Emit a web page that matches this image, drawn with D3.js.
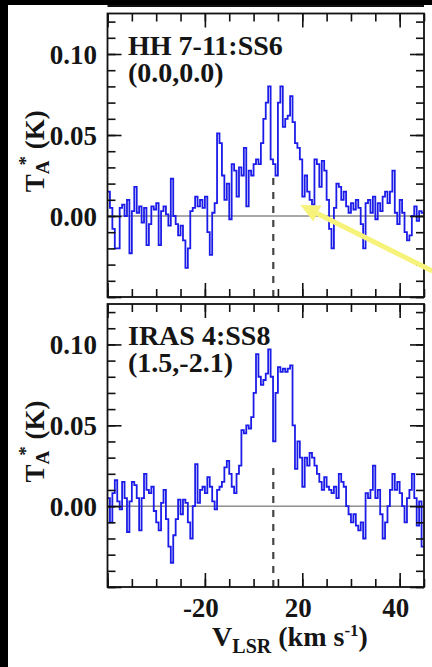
<!DOCTYPE html>
<html>
<head>
<meta charset="utf-8">
<script src="https://cdn.jsdelivr.net/npm/d3@7"></script>
<style>
  body { margin: 0; background: #fff; }
  text { font-family: "Liberation Serif", serif; font-weight: bold; fill: #151515; }
</style>
</head>
<body>
<div id="chart"></div>
<script>

// channel grid (km/s)
var velStart = -60;
var chanWidth = 1;

// spectra, one value per 1 km/s channel starting at -60 km/s
var ss6Values = [
  0.015, 0.005, -0.008, -0.02, -0.02, 0.005, 0.007, 0.0, 0.01, -0.023,
  0.003, 0.018, 0.002, 0.006, -0.004, 0.005, -0.018, -0.005, 0.006, 0.004,
  0.008, -0.018, 0.003, 0.006, 0.001, -0.006, 0.023, 0.0, -0.005, -0.012,
  -0.006, -0.015, -0.032, -0.02, 0.003, 0.005, 0.012, 0.006, 0.01, 0.005,
  0.012, -0.01, -0.024, 0.002, 0.008, 0.051, 0.045, 0.025, 0.01, 0.02,
  -0.002, 0.032, 0.028, 0.012, 0.03, 0.025, 0.042, 0.006, 0.028, 0.025,
  0.032, 0.035, 0.032, 0.045, 0.06, 0.07, 0.08, 0.035, 0.032, 0.025,
  0.07, 0.08, 0.055, 0.06, 0.062, 0.074, 0.058, 0.045, 0.042, 0.035,
  0.012, 0.025, 0.015, 0.01, 0.007, 0.035, 0.032, 0.018, 0.034, 0.028,
  0.01, -0.008, -0.02, 0.005, 0.02, 0.018, 0.01, 0.015, 0.006, 0.002,
  0.008, 0.004, 0.01, 0.005, -0.005, -0.02, 0.008, 0.01, 0.002, 0.012,
  -0.002, 0.008, 0.003, 0.012, 0.015, 0.008, 0.015, 0.028, 0.002, -0.005,
  0.01, 0.002, -0.01, -0.015, -0.012, 0.0, 0.006, -0.003, 0.003, 0.002
];

var ss8Values = [
  0.005, -0.01, 0.008, 0.016, 0.003, -0.002, 0.015, 0.005, -0.016, 0.003,
  0.015, 0.013, 0.005, -0.015, 0.005, 0.02, 0.01, 0.008, 0.012, -0.003,
  -0.01, -0.015, 0.002, 0.01, -0.008, -0.025, -0.035, -0.018, -0.008, 0.004,
  -0.005, 0.004, 0.002, -0.01, -0.02, 0.0, 0.026, 0.002, 0.01, 0.012,
  0.008, 0.018, 0.012, 0.003, -0.002, 0.01, 0.012, 0.015, 0.024, 0.028,
  0.02, 0.012, 0.008, 0.02, 0.025, 0.047, 0.045, 0.05, 0.048, 0.055,
  0.07, 0.094, 0.08, 0.075, 0.078, 0.082, 0.097, 0.08, 0.04, 0.07,
  0.086, 0.083, 0.085, 0.083, 0.085, 0.087, 0.05, 0.023, 0.04, 0.03,
  0.012, 0.03, 0.025, 0.033, 0.03, 0.025, 0.02, 0.015, 0.01, 0.018,
  0.012, 0.01, 0.008, 0.012, 0.005, 0.02, 0.015, 0.012, 0.0, -0.005,
  -0.01, -0.005, -0.012, -0.015, -0.01, -0.02, 0.008, 0.005, 0.01, 0.025,
  0.005, 0.01, -0.005, -0.02, -0.01, 0.0, 0.01, 0.02, 0.01, 0.015,
  0.008, 0.0, -0.01, 0.005, 0.01, 0.02, 0.005, -0.012, 0.003, -0.025
];

var panelNames = ["HH 7-11:SS6", "IRAS 4:SS8"];
var panelOffsets = ["(0.0,0.0)", "(1.5,-2.1)"];
var vSystemic = 8.1;

var xTickValues = [-20, 20, 60];
var xTickLabels = ["-20", "20", "40"];
var yTickValues = [0, 0.05, 0.10];
var yTickLabels = ["0.00", "0.05", "0.10"];

var svgWidth = 432;
var svgHeight = 667;

var left = 107.5, right = 424;
var panels = [
  { top: 13.5, bottom: 297, values: ss6Values, name: panelNames[0], pos: panelOffsets[0] },
  { top: 304, bottom: 587, values: ss8Values, name: panelNames[1], pos: panelOffsets[1] }
];

var svg = d3.select("#chart")
  .append("svg")
  .attr("width", svgWidth)
  .attr("height", svgHeight);

svg.append("rect").attr("width", svgWidth).attr("height", svgHeight).attr("fill", "#fff");

var xScale = d3.scaleLinear()
  .domain([velStart, velStart + chanWidth * ss6Values.length])
  .range([left, right]);

var minorX = d3.range(-60, 71, 10);
var majorX = minorX.filter(d => (d + 60) % 40 === 0);
var minorY = d3.range(-5, 13).map(d => d / 100);
var majorY = minorY.filter(d => Math.round(d * 100) % 5 === 0);

function drawTicks(g, axis, values, size) {
  g.call(axis.tickValues(values).tickSize(size).tickFormat(""));
  g.select(".domain").remove();
  g.selectAll(".tick line").attr("stroke", "#111").attr("stroke-width", 1.6);
}

panels.forEach(function(p, k) {
  var yScale = d3.scaleLinear().domain([-0.05, 0.125]).range([p.bottom, p.top]);
  var g = svg.append("g");

  g.append("clipPath").attr("id", "clip" + k)
    .append("rect")
    .attr("x", left).attr("y", p.top)
    .attr("width", right - left).attr("height", p.bottom - p.top);

  // zero line
  g.append("line")
    .attr("x1", left).attr("x2", right)
    .attr("y1", yScale(0)).attr("y2", yScale(0))
    .attr("stroke", "#555").attr("stroke-width", 1);

  // systemic velocity
  g.append("line")
    .attr("x1", xScale(vSystemic)).attr("x2", xScale(vSystemic))
    .attr("y1", yScale(-0.05)).attr("y2", yScale(0.025))
    .attr("stroke", "#444").attr("stroke-width", 2.2)
    .attr("stroke-dasharray", "7,7");

  var pts = p.values.map((d, i) => [velStart + i * chanWidth, d]);
  pts.push([velStart + p.values.length * chanWidth, p.values[p.values.length - 1]]);

  var line = d3.line()
    .x(d => xScale(d[0]))
    .y(d => yScale(d[1]))
    .curve(d3.curveStepAfter);

  g.append("path")
    .datum(pts)
    .attr("clip-path", "url(#clip" + k + ")")
    .attr("d", line)
    .attr("fill", "none")
    .attr("stroke", "#1c1ce8")
    .attr("stroke-width", 1.8);

  // ticks, all pointing in
  drawTicks(g.append("g").attr("transform", `translate(0,${p.bottom})`), d3.axisBottom(xScale), minorX, -8);
  drawTicks(g.append("g").attr("transform", `translate(0,${p.bottom})`), d3.axisBottom(xScale), majorX, -14);
  drawTicks(g.append("g").attr("transform", `translate(0,${p.top})`), d3.axisTop(xScale), minorX, -8);
  drawTicks(g.append("g").attr("transform", `translate(0,${p.top})`), d3.axisTop(xScale), majorX, -14);
  drawTicks(g.append("g").attr("transform", `translate(${left},0)`), d3.axisLeft(yScale), minorY, -8);
  drawTicks(g.append("g").attr("transform", `translate(${left},0)`), d3.axisLeft(yScale), majorY, -14);
  drawTicks(g.append("g").attr("transform", `translate(${right},0)`), d3.axisRight(yScale), minorY, -8);
  drawTicks(g.append("g").attr("transform", `translate(${right},0)`), d3.axisRight(yScale), majorY, -14);

  g.append("rect")
    .attr("x", left).attr("y", p.top)
    .attr("width", right - left).attr("height", p.bottom - p.top)
    .attr("fill", "none").attr("stroke", "#111").attr("stroke-width", 1.8);

  // y tick labels
  g.selectAll(".ylab")
    .data(yTickValues)
    .enter()
    .append("text")
    .attr("x", 97)
    .attr("y", d => yScale(d) + 10)
    .attr("text-anchor", "end")
    .style("font-size", "27px")
    .text((d, i) => yTickLabels[i]);

  // panel labels
  g.append("text").attr("x", 128).attr("y", p.top + 41)
    .style("font-size", "28px").text(p.name);
  g.append("text").attr("x", 128).attr("y", p.top + 68)
    .style("font-size", "28px").text(p.pos);

  // y axis title
  var yt = g.append("text")
    .attr("transform", `translate(44, ${(p.top + p.bottom) / 2 - 4}) rotate(-90)`)
    .attr("text-anchor", "middle")
    .style("font-size", "27px");
  yt.append("tspan").text("T");
  yt.append("tspan").attr("dy", 5).style("font-size", "19px").text("A");
  yt.append("tspan").attr("dx", -5).attr("dy", -17).style("font-size", "19px").text("*");
  yt.append("tspan").attr("dy", 12).text(" (K)");

  if (k === 0) {
    // arrow pointing at the spectrum
    var tip = [xScale(19.2), yScale(0.0068)];
    var tail = [xScale(73.5), yScale(-0.034)];
    var ang = Math.atan2(tip[1] - tail[1], tip[0] - tail[0]);
    var hl = 19, hw = 9;
    var base = [tip[0] - hl * Math.cos(ang), tip[1] - hl * Math.sin(ang)];
    svg.append("line")
      .attr("x1", tail[0]).attr("y1", tail[1])
      .attr("x2", base[0]).attr("y2", base[1])
      .attr("stroke", "#f7f27a").attr("stroke-width", 5);
    svg.append("path")
      .attr("d", d3.line()([
        tip,
        [base[0] + hw * Math.sin(ang), base[1] - hw * Math.cos(ang)],
        [base[0] - hw * Math.sin(ang), base[1] + hw * Math.cos(ang)]
      ]) + "Z")
      .attr("fill", "#f7f27a");
  }

  if (k === 1) {
    g.selectAll(".xlab")
      .data(xTickValues)
      .enter()
      .append("text")
      .attr("x", d => xScale(d) - 4)
      .attr("y", 617)
      .attr("text-anchor", "middle")
      .style("font-size", "27px")
      .text((d, i) => xTickLabels[i]);

    var xt = g.append("text")
      .attr("x", 290).attr("y", 646)
      .attr("text-anchor", "middle")
      .style("font-size", "28px");
    xt.append("tspan").text("V");
    xt.append("tspan").attr("dy", 7).style("font-size", "20px").text("LSR");
    xt.append("tspan").attr("dy", -7).text(" (km s");
    xt.append("tspan").attr("dy", -10).style("font-size", "17px").text("-1");
    xt.append("tspan").attr("dy", 10).text(")");
  }
});

// remains of the panel above, and the dark border
svg.append("rect").attr("x", 0).attr("y", 0).attr("width", svgWidth).attr("height", 5).attr("fill", "#000");
svg.append("line").attr("x1", left).attr("x2", right).attr("y1", 6).attr("y2", 6)
  .attr("stroke", "#111").attr("stroke-width", 1.8);
svg.append("rect").attr("x", 0).attr("y", 0).attr("width", 8).attr("height", svgHeight).attr("fill", "#000");

</script>
</body>
</html>
